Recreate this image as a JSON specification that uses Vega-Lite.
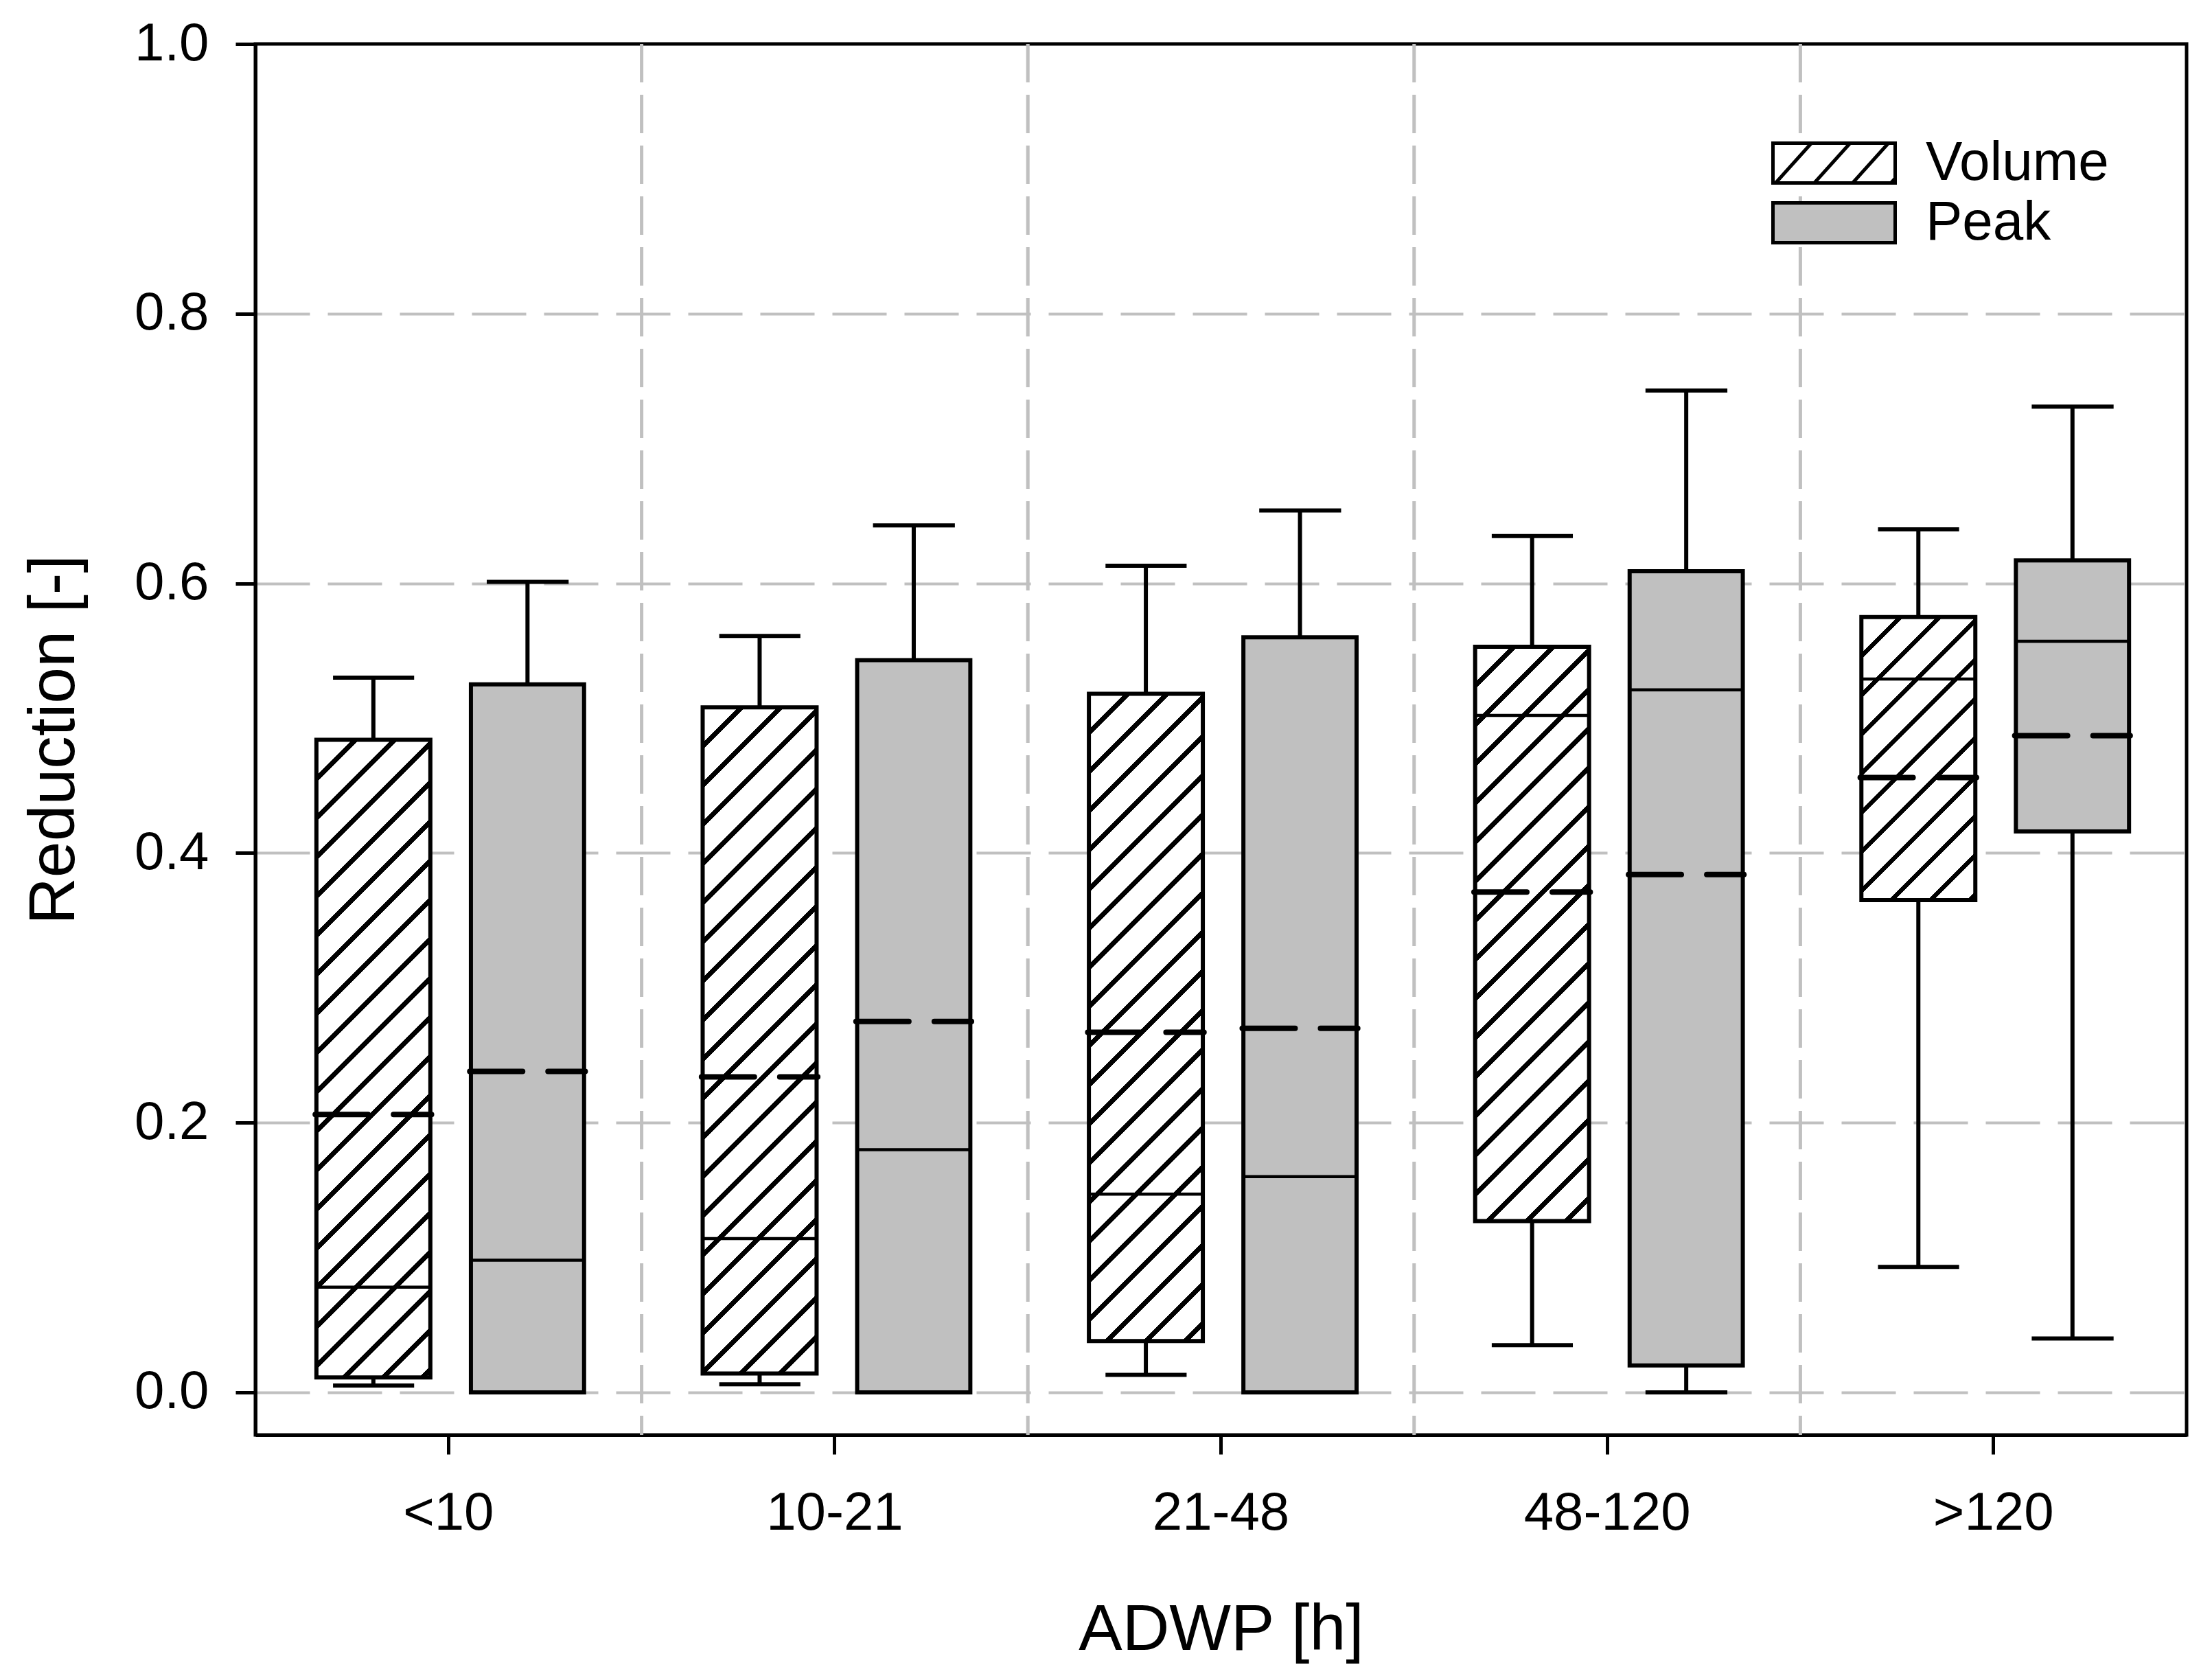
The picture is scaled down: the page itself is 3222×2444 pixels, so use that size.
{
  "$schema": "https://vega.github.io/schema/vega-lite/v6.json",
  "width": 2813,
  "height": 2026,
  "autosize": "none",
  "padding": {"left": 372, "top": 64, "right": 37, "bottom": 354},
  "background": "white",
  "config": {
    "font": "Liberation Sans",
    "view": {"stroke": "black", "strokeWidth": 5},
    "axis": {
      "domainColor": "black", "domainWidth": 5,
      "tickColor": "black", "tickWidth": 5, "tickSize": 28,
      "labelFont": "Liberation Sans", "labelFontSize": 78, "labelColor": "black", "labelLimit": 0,
      "titleFont": "Liberation Sans", "titleFontSize": 95, "titleFontWeight": "normal", "titleColor": "black",
      "zindex": 0
    }
  },
  "data": {"values": [
    {"cat": "<10", "series": "Volume", "low": 0.005, "q1": 0.011, "median": 0.078, "mean": 0.206, "q3": 0.484, "high": 0.530},
    {"cat": "<10", "series": "Peak", "low": 0.0, "q1": 0.0, "median": 0.098, "mean": 0.238, "q3": 0.525, "high": 0.601},
    {"cat": "10-21", "series": "Volume", "low": 0.006, "q1": 0.014, "median": 0.114, "mean": 0.234, "q3": 0.508, "high": 0.561},
    {"cat": "10-21", "series": "Peak", "low": 0.0, "q1": 0.0, "median": 0.180, "mean": 0.275, "q3": 0.543, "high": 0.643},
    {"cat": "21-48", "series": "Volume", "low": 0.013, "q1": 0.038, "median": 0.147, "mean": 0.267, "q3": 0.518, "high": 0.613},
    {"cat": "21-48", "series": "Peak", "low": 0.0, "q1": 0.0, "median": 0.160, "mean": 0.270, "q3": 0.560, "high": 0.654},
    {"cat": "48-120", "series": "Volume", "low": 0.035, "q1": 0.127, "median": 0.502, "mean": 0.371, "q3": 0.553, "high": 0.635},
    {"cat": "48-120", "series": "Peak", "low": 0.0, "q1": 0.020, "median": 0.521, "mean": 0.384, "q3": 0.609, "high": 0.743},
    {"cat": ">120", "series": "Volume", "low": 0.093, "q1": 0.365, "median": 0.529, "mean": 0.456, "q3": 0.575, "high": 0.640},
    {"cat": ">120", "series": "Peak", "low": 0.040, "q1": 0.416, "median": 0.557, "mean": 0.487, "q3": 0.617, "high": 0.731}
  ]},
  "layer": [
    {
      "transform": [{"filter": "datum.series === 'Volume' && datum.cat !== '<10'"}],
      "mark": {"type": "rule", "stroke": "#c0c0c0", "strokeWidth": 5, "strokeDash": [56, 18]},
      "encoding": {
        "x": {"field": "cat", "type": "nominal", "bandPosition": 0,
          "scale": {"domain": ["<10", "10-21", "21-48", "48-120", ">120"], "paddingInner": 0, "paddingOuter": 0},
          "axis": {"title": "ADWP [h]", "bandPosition": 0.5, "labelAngle": 0, "labelPadding": 47, "labelLimit": 0, "grid": false, "titleY": 312, "titleBaseline": "alphabetic"}}
      }
    },
    {
      "transform": [{"filter": "datum.series === 'Volume'"}],
      "layer": [
        {
          "mark": {"type": "rule", "stroke": "black", "strokeWidth": 6},
          "encoding": {
            "x": {"field": "cat", "type": "nominal", "bandPosition": 0.3055},
            "y": {"field": "q3", "type": "quantitative",
              "scale": {"domain": [-0.0316, 1.0], "nice": false, "zero": false},
              "axis": {"title": "Reduction [-]", "values": [0, 0.2, 0.4, 0.6, 0.8, 1.0], "format": ".1f",
                "tickSize": 29, "labelPadding": 39,
                "grid": true, "gridColor": "#c0c0c0", "gridDash": [79, 26], "gridWidth": 4,
                "gridOpacity": {"condition": {"test": "datum.value > 0.99", "value": 0}, "value": 1},
                "titleX": -265, "titleY": 1013, "titleAngle": 270, "titleAlign": "center", "titleBaseline": "alphabetic"}},
            "y2": {"field": "high"}
          }
        },
        {
          "mark": {"type": "rule", "stroke": "black", "strokeWidth": 6},
          "encoding": {
            "x": {"field": "cat", "type": "nominal", "bandPosition": 0.3055},
            "y": {"field": "low", "type": "quantitative"},
            "y2": {"field": "q1"}
          }
        },
        {
          "transform": [{"filter": "datum.cat === '<10'"}],
          "mark": {"type": "rect", "stroke": "black", "strokeWidth": 6,
            "fill": {"gradient": "linear", "x1": 0, "y1": 0, "x2": 0.21253, "y2": 1.18928, "stops": [
              {"offset": 0, "color": "#fff"},
              {"offset": 0.0458, "color": "#fff"}, {"offset": 0.0458, "color": "#000"}, {"offset": 0.0542, "color": "#000"}, {"offset": 0.0542, "color": "#fff"},
              {"offset": 0.0958, "color": "#fff"}, {"offset": 0.0958, "color": "#000"}, {"offset": 0.1042, "color": "#000"}, {"offset": 0.1042, "color": "#fff"},
              {"offset": 0.1458, "color": "#fff"}, {"offset": 0.1458, "color": "#000"}, {"offset": 0.1542, "color": "#000"}, {"offset": 0.1542, "color": "#fff"},
              {"offset": 0.1958, "color": "#fff"}, {"offset": 0.1958, "color": "#000"}, {"offset": 0.2042, "color": "#000"}, {"offset": 0.2042, "color": "#fff"},
              {"offset": 0.2458, "color": "#fff"}, {"offset": 0.2458, "color": "#000"}, {"offset": 0.2542, "color": "#000"}, {"offset": 0.2542, "color": "#fff"},
              {"offset": 0.2958, "color": "#fff"}, {"offset": 0.2958, "color": "#000"}, {"offset": 0.3042, "color": "#000"}, {"offset": 0.3042, "color": "#fff"},
              {"offset": 0.3458, "color": "#fff"}, {"offset": 0.3458, "color": "#000"}, {"offset": 0.3542, "color": "#000"}, {"offset": 0.3542, "color": "#fff"},
              {"offset": 0.3958, "color": "#fff"}, {"offset": 0.3958, "color": "#000"}, {"offset": 0.4042, "color": "#000"}, {"offset": 0.4042, "color": "#fff"},
              {"offset": 0.4458, "color": "#fff"}, {"offset": 0.4458, "color": "#000"}, {"offset": 0.4542, "color": "#000"}, {"offset": 0.4542, "color": "#fff"},
              {"offset": 0.4958, "color": "#fff"}, {"offset": 0.4958, "color": "#000"}, {"offset": 0.5042, "color": "#000"}, {"offset": 0.5042, "color": "#fff"},
              {"offset": 0.5458, "color": "#fff"}, {"offset": 0.5458, "color": "#000"}, {"offset": 0.5542, "color": "#000"}, {"offset": 0.5542, "color": "#fff"},
              {"offset": 0.5958, "color": "#fff"}, {"offset": 0.5958, "color": "#000"}, {"offset": 0.6042, "color": "#000"}, {"offset": 0.6042, "color": "#fff"},
              {"offset": 0.6458, "color": "#fff"}, {"offset": 0.6458, "color": "#000"}, {"offset": 0.6542, "color": "#000"}, {"offset": 0.6542, "color": "#fff"},
              {"offset": 0.6958, "color": "#fff"}, {"offset": 0.6958, "color": "#000"}, {"offset": 0.7042, "color": "#000"}, {"offset": 0.7042, "color": "#fff"},
              {"offset": 0.7458, "color": "#fff"}, {"offset": 0.7458, "color": "#000"}, {"offset": 0.7542, "color": "#000"}, {"offset": 0.7542, "color": "#fff"},
              {"offset": 0.7958, "color": "#fff"}, {"offset": 0.7958, "color": "#000"}, {"offset": 0.8042, "color": "#000"}, {"offset": 0.8042, "color": "#fff"},
              {"offset": 0.8458, "color": "#fff"}, {"offset": 0.8458, "color": "#000"}, {"offset": 0.8542, "color": "#000"}, {"offset": 0.8542, "color": "#fff"},
              {"offset": 0.8958, "color": "#fff"}, {"offset": 0.8958, "color": "#000"}, {"offset": 0.9042, "color": "#000"}, {"offset": 0.9042, "color": "#fff"},
              {"offset": 0.9458, "color": "#fff"}, {"offset": 0.9458, "color": "#000"}, {"offset": 0.9542, "color": "#000"}, {"offset": 0.9542, "color": "#fff"},
              {"offset": 1, "color": "#fff"}]}},
          "encoding": {
            "x": {"field": "cat", "type": "nominal", "bandPosition": 0.158},
            "x2": {"field": "cat", "bandPosition": 0.453},
            "y": {"field": "q1", "type": "quantitative"},
            "y2": {"field": "q3"}
          }
        },
        {
          "transform": [{"filter": "datum.cat === '10-21'"}],
          "mark": {"type": "rect", "stroke": "black", "strokeWidth": 6,
            "fill": {"gradient": "linear", "x1": 0, "y1": 0, "x2": 0.19533, "y2": 1.14160, "stops": [
              {"offset": 0, "color": "#fff"},
              {"offset": 0.0458, "color": "#fff"}, {"offset": 0.0458, "color": "#000"}, {"offset": 0.0542, "color": "#000"}, {"offset": 0.0542, "color": "#fff"},
              {"offset": 0.0958, "color": "#fff"}, {"offset": 0.0958, "color": "#000"}, {"offset": 0.1042, "color": "#000"}, {"offset": 0.1042, "color": "#fff"},
              {"offset": 0.1458, "color": "#fff"}, {"offset": 0.1458, "color": "#000"}, {"offset": 0.1542, "color": "#000"}, {"offset": 0.1542, "color": "#fff"},
              {"offset": 0.1958, "color": "#fff"}, {"offset": 0.1958, "color": "#000"}, {"offset": 0.2042, "color": "#000"}, {"offset": 0.2042, "color": "#fff"},
              {"offset": 0.2458, "color": "#fff"}, {"offset": 0.2458, "color": "#000"}, {"offset": 0.2542, "color": "#000"}, {"offset": 0.2542, "color": "#fff"},
              {"offset": 0.2958, "color": "#fff"}, {"offset": 0.2958, "color": "#000"}, {"offset": 0.3042, "color": "#000"}, {"offset": 0.3042, "color": "#fff"},
              {"offset": 0.3458, "color": "#fff"}, {"offset": 0.3458, "color": "#000"}, {"offset": 0.3542, "color": "#000"}, {"offset": 0.3542, "color": "#fff"},
              {"offset": 0.3958, "color": "#fff"}, {"offset": 0.3958, "color": "#000"}, {"offset": 0.4042, "color": "#000"}, {"offset": 0.4042, "color": "#fff"},
              {"offset": 0.4458, "color": "#fff"}, {"offset": 0.4458, "color": "#000"}, {"offset": 0.4542, "color": "#000"}, {"offset": 0.4542, "color": "#fff"},
              {"offset": 0.4958, "color": "#fff"}, {"offset": 0.4958, "color": "#000"}, {"offset": 0.5042, "color": "#000"}, {"offset": 0.5042, "color": "#fff"},
              {"offset": 0.5458, "color": "#fff"}, {"offset": 0.5458, "color": "#000"}, {"offset": 0.5542, "color": "#000"}, {"offset": 0.5542, "color": "#fff"},
              {"offset": 0.5958, "color": "#fff"}, {"offset": 0.5958, "color": "#000"}, {"offset": 0.6042, "color": "#000"}, {"offset": 0.6042, "color": "#fff"},
              {"offset": 0.6458, "color": "#fff"}, {"offset": 0.6458, "color": "#000"}, {"offset": 0.6542, "color": "#000"}, {"offset": 0.6542, "color": "#fff"},
              {"offset": 0.6958, "color": "#fff"}, {"offset": 0.6958, "color": "#000"}, {"offset": 0.7042, "color": "#000"}, {"offset": 0.7042, "color": "#fff"},
              {"offset": 0.7458, "color": "#fff"}, {"offset": 0.7458, "color": "#000"}, {"offset": 0.7542, "color": "#000"}, {"offset": 0.7542, "color": "#fff"},
              {"offset": 0.7958, "color": "#fff"}, {"offset": 0.7958, "color": "#000"}, {"offset": 0.8042, "color": "#000"}, {"offset": 0.8042, "color": "#fff"},
              {"offset": 0.8458, "color": "#fff"}, {"offset": 0.8458, "color": "#000"}, {"offset": 0.8542, "color": "#000"}, {"offset": 0.8542, "color": "#fff"},
              {"offset": 0.8958, "color": "#fff"}, {"offset": 0.8958, "color": "#000"}, {"offset": 0.9042, "color": "#000"}, {"offset": 0.9042, "color": "#fff"},
              {"offset": 0.9458, "color": "#fff"}, {"offset": 0.9458, "color": "#000"}, {"offset": 0.9542, "color": "#000"}, {"offset": 0.9542, "color": "#fff"},
              {"offset": 1, "color": "#fff"}]}},
          "encoding": {
            "x": {"field": "cat", "type": "nominal", "bandPosition": 0.158},
            "x2": {"field": "cat", "bandPosition": 0.453},
            "y": {"field": "q1", "type": "quantitative"},
            "y2": {"field": "q3"}
          }
        },
        {
          "transform": [{"filter": "datum.cat === '21-48'"}],
          "mark": {"type": "rect", "stroke": "black", "strokeWidth": 6,
            "fill": {"gradient": "linear", "x1": 0, "y1": 0, "x2": 0.20654, "y2": 1.17293, "stops": [
              {"offset": 0, "color": "#fff"},
              {"offset": 0.0458, "color": "#fff"}, {"offset": 0.0458, "color": "#000"}, {"offset": 0.0542, "color": "#000"}, {"offset": 0.0542, "color": "#fff"},
              {"offset": 0.0958, "color": "#fff"}, {"offset": 0.0958, "color": "#000"}, {"offset": 0.1042, "color": "#000"}, {"offset": 0.1042, "color": "#fff"},
              {"offset": 0.1458, "color": "#fff"}, {"offset": 0.1458, "color": "#000"}, {"offset": 0.1542, "color": "#000"}, {"offset": 0.1542, "color": "#fff"},
              {"offset": 0.1958, "color": "#fff"}, {"offset": 0.1958, "color": "#000"}, {"offset": 0.2042, "color": "#000"}, {"offset": 0.2042, "color": "#fff"},
              {"offset": 0.2458, "color": "#fff"}, {"offset": 0.2458, "color": "#000"}, {"offset": 0.2542, "color": "#000"}, {"offset": 0.2542, "color": "#fff"},
              {"offset": 0.2958, "color": "#fff"}, {"offset": 0.2958, "color": "#000"}, {"offset": 0.3042, "color": "#000"}, {"offset": 0.3042, "color": "#fff"},
              {"offset": 0.3458, "color": "#fff"}, {"offset": 0.3458, "color": "#000"}, {"offset": 0.3542, "color": "#000"}, {"offset": 0.3542, "color": "#fff"},
              {"offset": 0.3958, "color": "#fff"}, {"offset": 0.3958, "color": "#000"}, {"offset": 0.4042, "color": "#000"}, {"offset": 0.4042, "color": "#fff"},
              {"offset": 0.4458, "color": "#fff"}, {"offset": 0.4458, "color": "#000"}, {"offset": 0.4542, "color": "#000"}, {"offset": 0.4542, "color": "#fff"},
              {"offset": 0.4958, "color": "#fff"}, {"offset": 0.4958, "color": "#000"}, {"offset": 0.5042, "color": "#000"}, {"offset": 0.5042, "color": "#fff"},
              {"offset": 0.5458, "color": "#fff"}, {"offset": 0.5458, "color": "#000"}, {"offset": 0.5542, "color": "#000"}, {"offset": 0.5542, "color": "#fff"},
              {"offset": 0.5958, "color": "#fff"}, {"offset": 0.5958, "color": "#000"}, {"offset": 0.6042, "color": "#000"}, {"offset": 0.6042, "color": "#fff"},
              {"offset": 0.6458, "color": "#fff"}, {"offset": 0.6458, "color": "#000"}, {"offset": 0.6542, "color": "#000"}, {"offset": 0.6542, "color": "#fff"},
              {"offset": 0.6958, "color": "#fff"}, {"offset": 0.6958, "color": "#000"}, {"offset": 0.7042, "color": "#000"}, {"offset": 0.7042, "color": "#fff"},
              {"offset": 0.7458, "color": "#fff"}, {"offset": 0.7458, "color": "#000"}, {"offset": 0.7542, "color": "#000"}, {"offset": 0.7542, "color": "#fff"},
              {"offset": 0.7958, "color": "#fff"}, {"offset": 0.7958, "color": "#000"}, {"offset": 0.8042, "color": "#000"}, {"offset": 0.8042, "color": "#fff"},
              {"offset": 0.8458, "color": "#fff"}, {"offset": 0.8458, "color": "#000"}, {"offset": 0.8542, "color": "#000"}, {"offset": 0.8542, "color": "#fff"},
              {"offset": 0.8958, "color": "#fff"}, {"offset": 0.8958, "color": "#000"}, {"offset": 0.9042, "color": "#000"}, {"offset": 0.9042, "color": "#fff"},
              {"offset": 0.9458, "color": "#fff"}, {"offset": 0.9458, "color": "#000"}, {"offset": 0.9542, "color": "#000"}, {"offset": 0.9542, "color": "#fff"},
              {"offset": 1, "color": "#fff"}]}},
          "encoding": {
            "x": {"field": "cat", "type": "nominal", "bandPosition": 0.158},
            "x2": {"field": "cat", "bandPosition": 0.453},
            "y": {"field": "q1", "type": "quantitative"},
            "y2": {"field": "q3"}
          }
        },
        {
          "transform": [{"filter": "datum.cat === '48-120'"}],
          "mark": {"type": "rect", "stroke": "black", "strokeWidth": 6,
            "fill": {"gradient": "linear", "x1": 0, "y1": 0, "x2": 0.26014, "y2": 1.31104, "stops": [
              {"offset": 0, "color": "#fff"},
              {"offset": 0.0458, "color": "#fff"}, {"offset": 0.0458, "color": "#000"}, {"offset": 0.0542, "color": "#000"}, {"offset": 0.0542, "color": "#fff"},
              {"offset": 0.0958, "color": "#fff"}, {"offset": 0.0958, "color": "#000"}, {"offset": 0.1042, "color": "#000"}, {"offset": 0.1042, "color": "#fff"},
              {"offset": 0.1458, "color": "#fff"}, {"offset": 0.1458, "color": "#000"}, {"offset": 0.1542, "color": "#000"}, {"offset": 0.1542, "color": "#fff"},
              {"offset": 0.1958, "color": "#fff"}, {"offset": 0.1958, "color": "#000"}, {"offset": 0.2042, "color": "#000"}, {"offset": 0.2042, "color": "#fff"},
              {"offset": 0.2458, "color": "#fff"}, {"offset": 0.2458, "color": "#000"}, {"offset": 0.2542, "color": "#000"}, {"offset": 0.2542, "color": "#fff"},
              {"offset": 0.2958, "color": "#fff"}, {"offset": 0.2958, "color": "#000"}, {"offset": 0.3042, "color": "#000"}, {"offset": 0.3042, "color": "#fff"},
              {"offset": 0.3458, "color": "#fff"}, {"offset": 0.3458, "color": "#000"}, {"offset": 0.3542, "color": "#000"}, {"offset": 0.3542, "color": "#fff"},
              {"offset": 0.3958, "color": "#fff"}, {"offset": 0.3958, "color": "#000"}, {"offset": 0.4042, "color": "#000"}, {"offset": 0.4042, "color": "#fff"},
              {"offset": 0.4458, "color": "#fff"}, {"offset": 0.4458, "color": "#000"}, {"offset": 0.4542, "color": "#000"}, {"offset": 0.4542, "color": "#fff"},
              {"offset": 0.4958, "color": "#fff"}, {"offset": 0.4958, "color": "#000"}, {"offset": 0.5042, "color": "#000"}, {"offset": 0.5042, "color": "#fff"},
              {"offset": 0.5458, "color": "#fff"}, {"offset": 0.5458, "color": "#000"}, {"offset": 0.5542, "color": "#000"}, {"offset": 0.5542, "color": "#fff"},
              {"offset": 0.5958, "color": "#fff"}, {"offset": 0.5958, "color": "#000"}, {"offset": 0.6042, "color": "#000"}, {"offset": 0.6042, "color": "#fff"},
              {"offset": 0.6458, "color": "#fff"}, {"offset": 0.6458, "color": "#000"}, {"offset": 0.6542, "color": "#000"}, {"offset": 0.6542, "color": "#fff"},
              {"offset": 0.6958, "color": "#fff"}, {"offset": 0.6958, "color": "#000"}, {"offset": 0.7042, "color": "#000"}, {"offset": 0.7042, "color": "#fff"},
              {"offset": 0.7458, "color": "#fff"}, {"offset": 0.7458, "color": "#000"}, {"offset": 0.7542, "color": "#000"}, {"offset": 0.7542, "color": "#fff"},
              {"offset": 0.7958, "color": "#fff"}, {"offset": 0.7958, "color": "#000"}, {"offset": 0.8042, "color": "#000"}, {"offset": 0.8042, "color": "#fff"},
              {"offset": 0.8458, "color": "#fff"}, {"offset": 0.8458, "color": "#000"}, {"offset": 0.8542, "color": "#000"}, {"offset": 0.8542, "color": "#fff"},
              {"offset": 1, "color": "#fff"}]}},
          "encoding": {
            "x": {"field": "cat", "type": "nominal", "bandPosition": 0.158},
            "x2": {"field": "cat", "bandPosition": 0.453},
            "y": {"field": "q1", "type": "quantitative"},
            "y2": {"field": "q3"}
          }
        },
        {
          "transform": [{"filter": "datum.cat === '>120'"}],
          "mark": {"type": "rect", "stroke": "black", "strokeWidth": 6,
            "fill": {"gradient": "linear", "x1": 0, "y1": 0, "x2": 0.95755, "y2": 2.37887, "stops": [
              {"offset": 0, "color": "#fff"},
              {"offset": 0.0458, "color": "#fff"}, {"offset": 0.0458, "color": "#000"}, {"offset": 0.0542, "color": "#000"}, {"offset": 0.0542, "color": "#fff"},
              {"offset": 0.0958, "color": "#fff"}, {"offset": 0.0958, "color": "#000"}, {"offset": 0.1042, "color": "#000"}, {"offset": 0.1042, "color": "#fff"},
              {"offset": 0.1458, "color": "#fff"}, {"offset": 0.1458, "color": "#000"}, {"offset": 0.1542, "color": "#000"}, {"offset": 0.1542, "color": "#fff"},
              {"offset": 0.1958, "color": "#fff"}, {"offset": 0.1958, "color": "#000"}, {"offset": 0.2042, "color": "#000"}, {"offset": 0.2042, "color": "#fff"},
              {"offset": 0.2458, "color": "#fff"}, {"offset": 0.2458, "color": "#000"}, {"offset": 0.2542, "color": "#000"}, {"offset": 0.2542, "color": "#fff"},
              {"offset": 0.2958, "color": "#fff"}, {"offset": 0.2958, "color": "#000"}, {"offset": 0.3042, "color": "#000"}, {"offset": 0.3042, "color": "#fff"},
              {"offset": 0.3458, "color": "#fff"}, {"offset": 0.3458, "color": "#000"}, {"offset": 0.3542, "color": "#000"}, {"offset": 0.3542, "color": "#fff"},
              {"offset": 0.3958, "color": "#fff"}, {"offset": 0.3958, "color": "#000"}, {"offset": 0.4042, "color": "#000"}, {"offset": 0.4042, "color": "#fff"},
              {"offset": 0.4458, "color": "#fff"}, {"offset": 0.4458, "color": "#000"}, {"offset": 0.4542, "color": "#000"}, {"offset": 0.4542, "color": "#fff"},
              {"offset": 0.4958, "color": "#fff"}, {"offset": 0.4958, "color": "#000"}, {"offset": 0.5042, "color": "#000"}, {"offset": 0.5042, "color": "#fff"},
              {"offset": 1, "color": "#fff"}]}},
          "encoding": {
            "x": {"field": "cat", "type": "nominal", "bandPosition": 0.158},
            "x2": {"field": "cat", "bandPosition": 0.453},
            "y": {"field": "q1", "type": "quantitative"},
            "y2": {"field": "q3"}
          }
        },
        {
          "mark": {"type": "rule", "stroke": "black", "strokeWidth": 4.5},
          "encoding": {
            "x": {"field": "cat", "type": "nominal", "bandPosition": 0.158},
            "x2": {"field": "cat", "bandPosition": 0.453},
            "y": {"field": "median", "type": "quantitative"}
          }
        },
        {
          "mark": {"type": "rule", "stroke": "black", "strokeWidth": 8, "strokeDash": [77, 37], "strokeCap": "round"},
          "encoding": {
            "x": {"field": "cat", "type": "nominal", "bandPosition": 0.155},
            "x2": {"field": "cat", "bandPosition": 0.456},
            "y": {"field": "mean", "type": "quantitative"}
          }
        },
        {
          "mark": {"type": "rule", "stroke": "black", "strokeWidth": 6},
          "encoding": {
            "x": {"field": "cat", "type": "nominal", "bandPosition": 0.201},
            "x2": {"field": "cat", "bandPosition": 0.411},
            "y": {"field": "high", "type": "quantitative"}
          }
        },
        {
          "mark": {"type": "rule", "stroke": "black", "strokeWidth": 6},
          "encoding": {
            "x": {"field": "cat", "type": "nominal", "bandPosition": 0.201},
            "x2": {"field": "cat", "bandPosition": 0.411},
            "y": {"field": "low", "type": "quantitative"}
          }
        }
      ]
    },
    {
      "transform": [{"filter": "datum.series === 'Peak'"}],
      "layer": [
        {
          "mark": {"type": "rule", "stroke": "black", "strokeWidth": 6},
          "encoding": {
            "x": {"field": "cat", "type": "nominal", "bandPosition": 0.7045},
            "y": {"field": "q3", "type": "quantitative"},
            "y2": {"field": "high"}
          }
        },
        {
          "mark": {"type": "rule", "stroke": "black", "strokeWidth": 6},
          "encoding": {
            "x": {"field": "cat", "type": "nominal", "bandPosition": 0.7045},
            "y": {"field": "low", "type": "quantitative"},
            "y2": {"field": "q1"}
          }
        },
        {
          "mark": {"type": "rect", "stroke": "black", "strokeWidth": 6, "fill": "#c0c0c0"},
          "encoding": {
            "x": {"field": "cat", "type": "nominal", "bandPosition": 0.558},
            "x2": {"field": "cat", "bandPosition": 0.851},
            "y": {"field": "q1", "type": "quantitative"},
            "y2": {"field": "q3"}
          }
        },
        {
          "mark": {"type": "rule", "stroke": "black", "strokeWidth": 4.5},
          "encoding": {
            "x": {"field": "cat", "type": "nominal", "bandPosition": 0.558},
            "x2": {"field": "cat", "bandPosition": 0.851},
            "y": {"field": "median", "type": "quantitative"}
          }
        },
        {
          "mark": {"type": "rule", "stroke": "black", "strokeWidth": 8, "strokeDash": [77, 37], "strokeCap": "round"},
          "encoding": {
            "x": {"field": "cat", "type": "nominal", "bandPosition": 0.555},
            "x2": {"field": "cat", "bandPosition": 0.854},
            "y": {"field": "mean", "type": "quantitative"}
          }
        },
        {
          "mark": {"type": "rule", "stroke": "black", "strokeWidth": 6},
          "encoding": {
            "x": {"field": "cat", "type": "nominal", "bandPosition": 0.599},
            "x2": {"field": "cat", "bandPosition": 0.811},
            "y": {"field": "high", "type": "quantitative"}
          }
        },
        {
          "mark": {"type": "rule", "stroke": "black", "strokeWidth": 6},
          "encoding": {
            "x": {"field": "cat", "type": "nominal", "bandPosition": 0.599},
            "x2": {"field": "cat", "bandPosition": 0.811},
            "y": {"field": "low", "type": "quantitative"}
          }
        }
      ]
    },
    {
      "transform": [{"filter": "datum.cat === '<10'"}],
      "mark": {"type": "point", "opacity": 0, "filled": true, "strokeWidth": 5},
      "encoding": {
        "fill": {"field": "series", "type": "nominal",
          "scale": {"domain": ["Volume", "Peak"], "range": ["white", "#c0c0c0"]},
          "legend": {"title": null, "orient": "none", "legendX": 2207, "legendY": 133.5, "padding": 0,
            "symbolSize": 14400, "symbolStrokeWidth": 5, "symbolOpacity": 1, "clipHeight": 80, "symbolOffset": 30,
            "labelFont": "Liberation Sans", "labelFontSize": 80, "labelColor": "black",
            "labelOffset": 71, "rowPadding": 7, "labelLimit": 0}},
        "stroke": {"field": "series", "type": "nominal",
          "scale": {"domain": ["Volume", "Peak"], "range": ["black", "black"]},
          "legend": {"title": null, "orient": "none", "legendX": 2207, "legendY": 133.5, "padding": 0,
            "symbolSize": 14400, "symbolStrokeWidth": 5, "symbolOpacity": 1, "clipHeight": 80, "symbolOffset": 30,
            "labelFont": "Liberation Sans", "labelFontSize": 80, "labelColor": "black",
            "labelOffset": 71, "rowPadding": 7, "labelLimit": 0}},
        "shape": {"field": "series", "type": "nominal",
          "scale": {"domain": ["Volume", "Peak"], "range": [
            "M-1.483,-0.483H1.483V0.483H-1.483ZM-1.42,0.483L-0.55,-0.483M-0.48,0.483L0.39,-0.483M0.45,0.483L1.32,-0.483M1.38,0.483L1.483,0.369",
            "M-1.483,-0.483H1.483V0.483H-1.483Z"]},
          "legend": {"title": null, "orient": "none", "legendX": 2207, "legendY": 133.5, "padding": 0,
            "symbolSize": 14400, "symbolStrokeWidth": 5, "symbolOpacity": 1, "clipHeight": 80, "symbolOffset": 30,
            "labelFont": "Liberation Sans", "labelFontSize": 80, "labelColor": "black",
            "labelOffset": 71, "rowPadding": 7, "labelLimit": 0}}
      }
    }
  ]
}
